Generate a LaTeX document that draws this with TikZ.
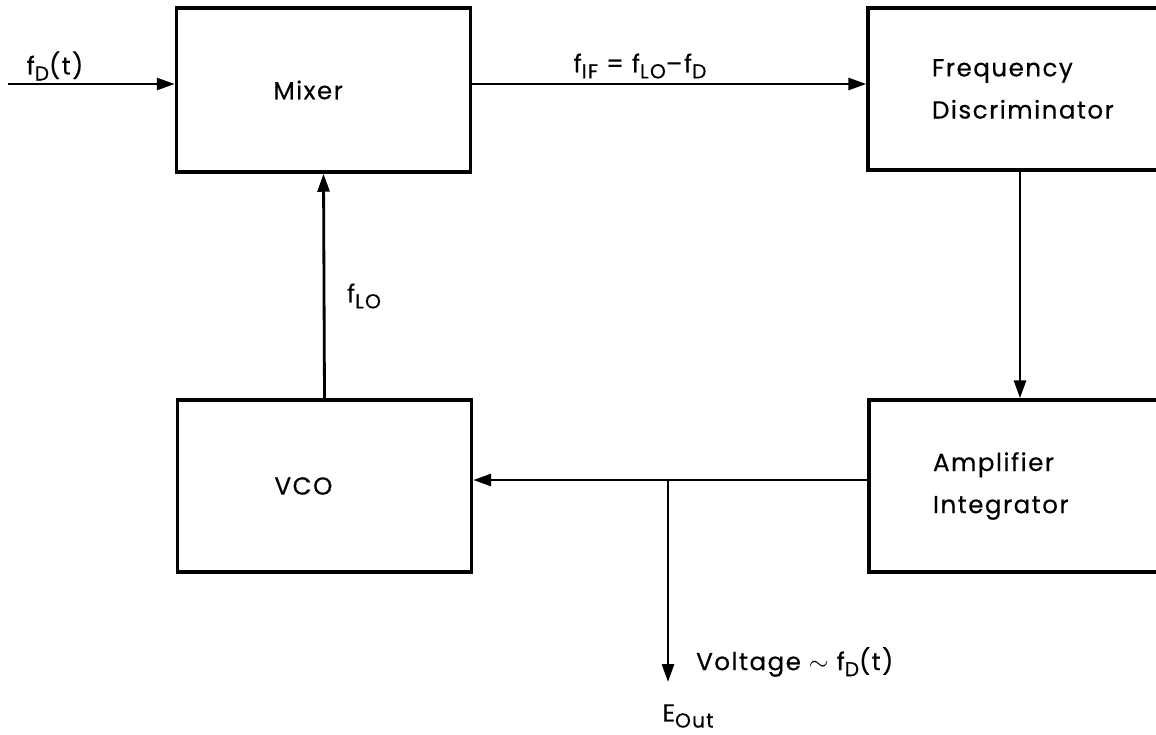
\documentclass[tikz,border=0pt]{standalone}
\usepackage{fontspec}
\setmainfont{Poppins}[LetterSpace=6, FakeBold=0.4]
\usetikzlibrary{arrows.meta, positioning}
\newcommand{\sbs}[1]{\raisebox{-0.45ex}{\fontsize{11.5}{12}\selectfont #1}}

\begin{document}
\begin{tikzpicture}[x=0.02cm, y=-0.02cm,
    blk/.style={draw, line width=2pt, text width=2cm, inner xsep=1.94cm, align=left, font=\fontsize{14}{19}\selectfont},
    rblk/.style={draw, line width=2pt, text width=5cm, inner xsep=1.28cm, align=left, font=\fontsize{14}{24}\selectfont},
    sig/.style={-{Triangle[length=0.36cm, width=0.24cm]}, line width=1.6pt},
    lbl/.style={font=\fontsize{14}{19}\selectfont}]
    \useasboundingbox (0,0) rectangle (1156,734);
    \clip (0,0) rectangle (1156,734);

    % Blocks
    \node[blk, minimum height=3.28cm] (mix) at (323.5,90) {Mixer};
    \node[blk, minimum height=3.44cm] (vco) at (324.5,486) {VCO};
    \node[rblk, minimum height=3.24cm] (fd) at (1057,89) {Frequency\\Discriminator\\[-0.25cm]};
    \node[rblk, minimum height=3.44cm] (ai) at (1058,486) {Amplifier\\Integrator};

    % Helper points
    \coordinate (in) at (8,84);
    \coordinate (dn) at (1020,0);
    \coordinate (ret) at (0,480);
    \coordinate (br) at (668,480);
    \coordinate (eout) at (668,682);

    % Signal path
    \draw[sig] (in) -- (in -| mix.west);
    \draw[sig] (in -| mix.east) -- (in -| fd.west);
    \draw[sig] (fd.south -| dn) -- (ai.north -| dn);
    \draw[sig] (ai.west |- ret) -- (vco.east |- ret);
    \draw[sig] (vco.north) -- (mix.south);
    \draw[sig] (br) -- (eout);

    % Labels
    \node[lbl] (fdin) at (55,66) {f\sbs{D}(t)};
    \node[lbl] (fif) at (640,66) {f\sbs{IF} = f\sbs{LO}–f\sbs{D}};
    \node[lbl] (flo) at (364,296) {f\sbs{LO}};
    \node[lbl, anchor=west] (volt) at (690,662) {Voltage {\Large$\sim$} f\sbs{D}(t)};
    \node[lbl] (eo) at (688,716) {E\sbs{Out}};
\end{tikzpicture}
\end{document}
